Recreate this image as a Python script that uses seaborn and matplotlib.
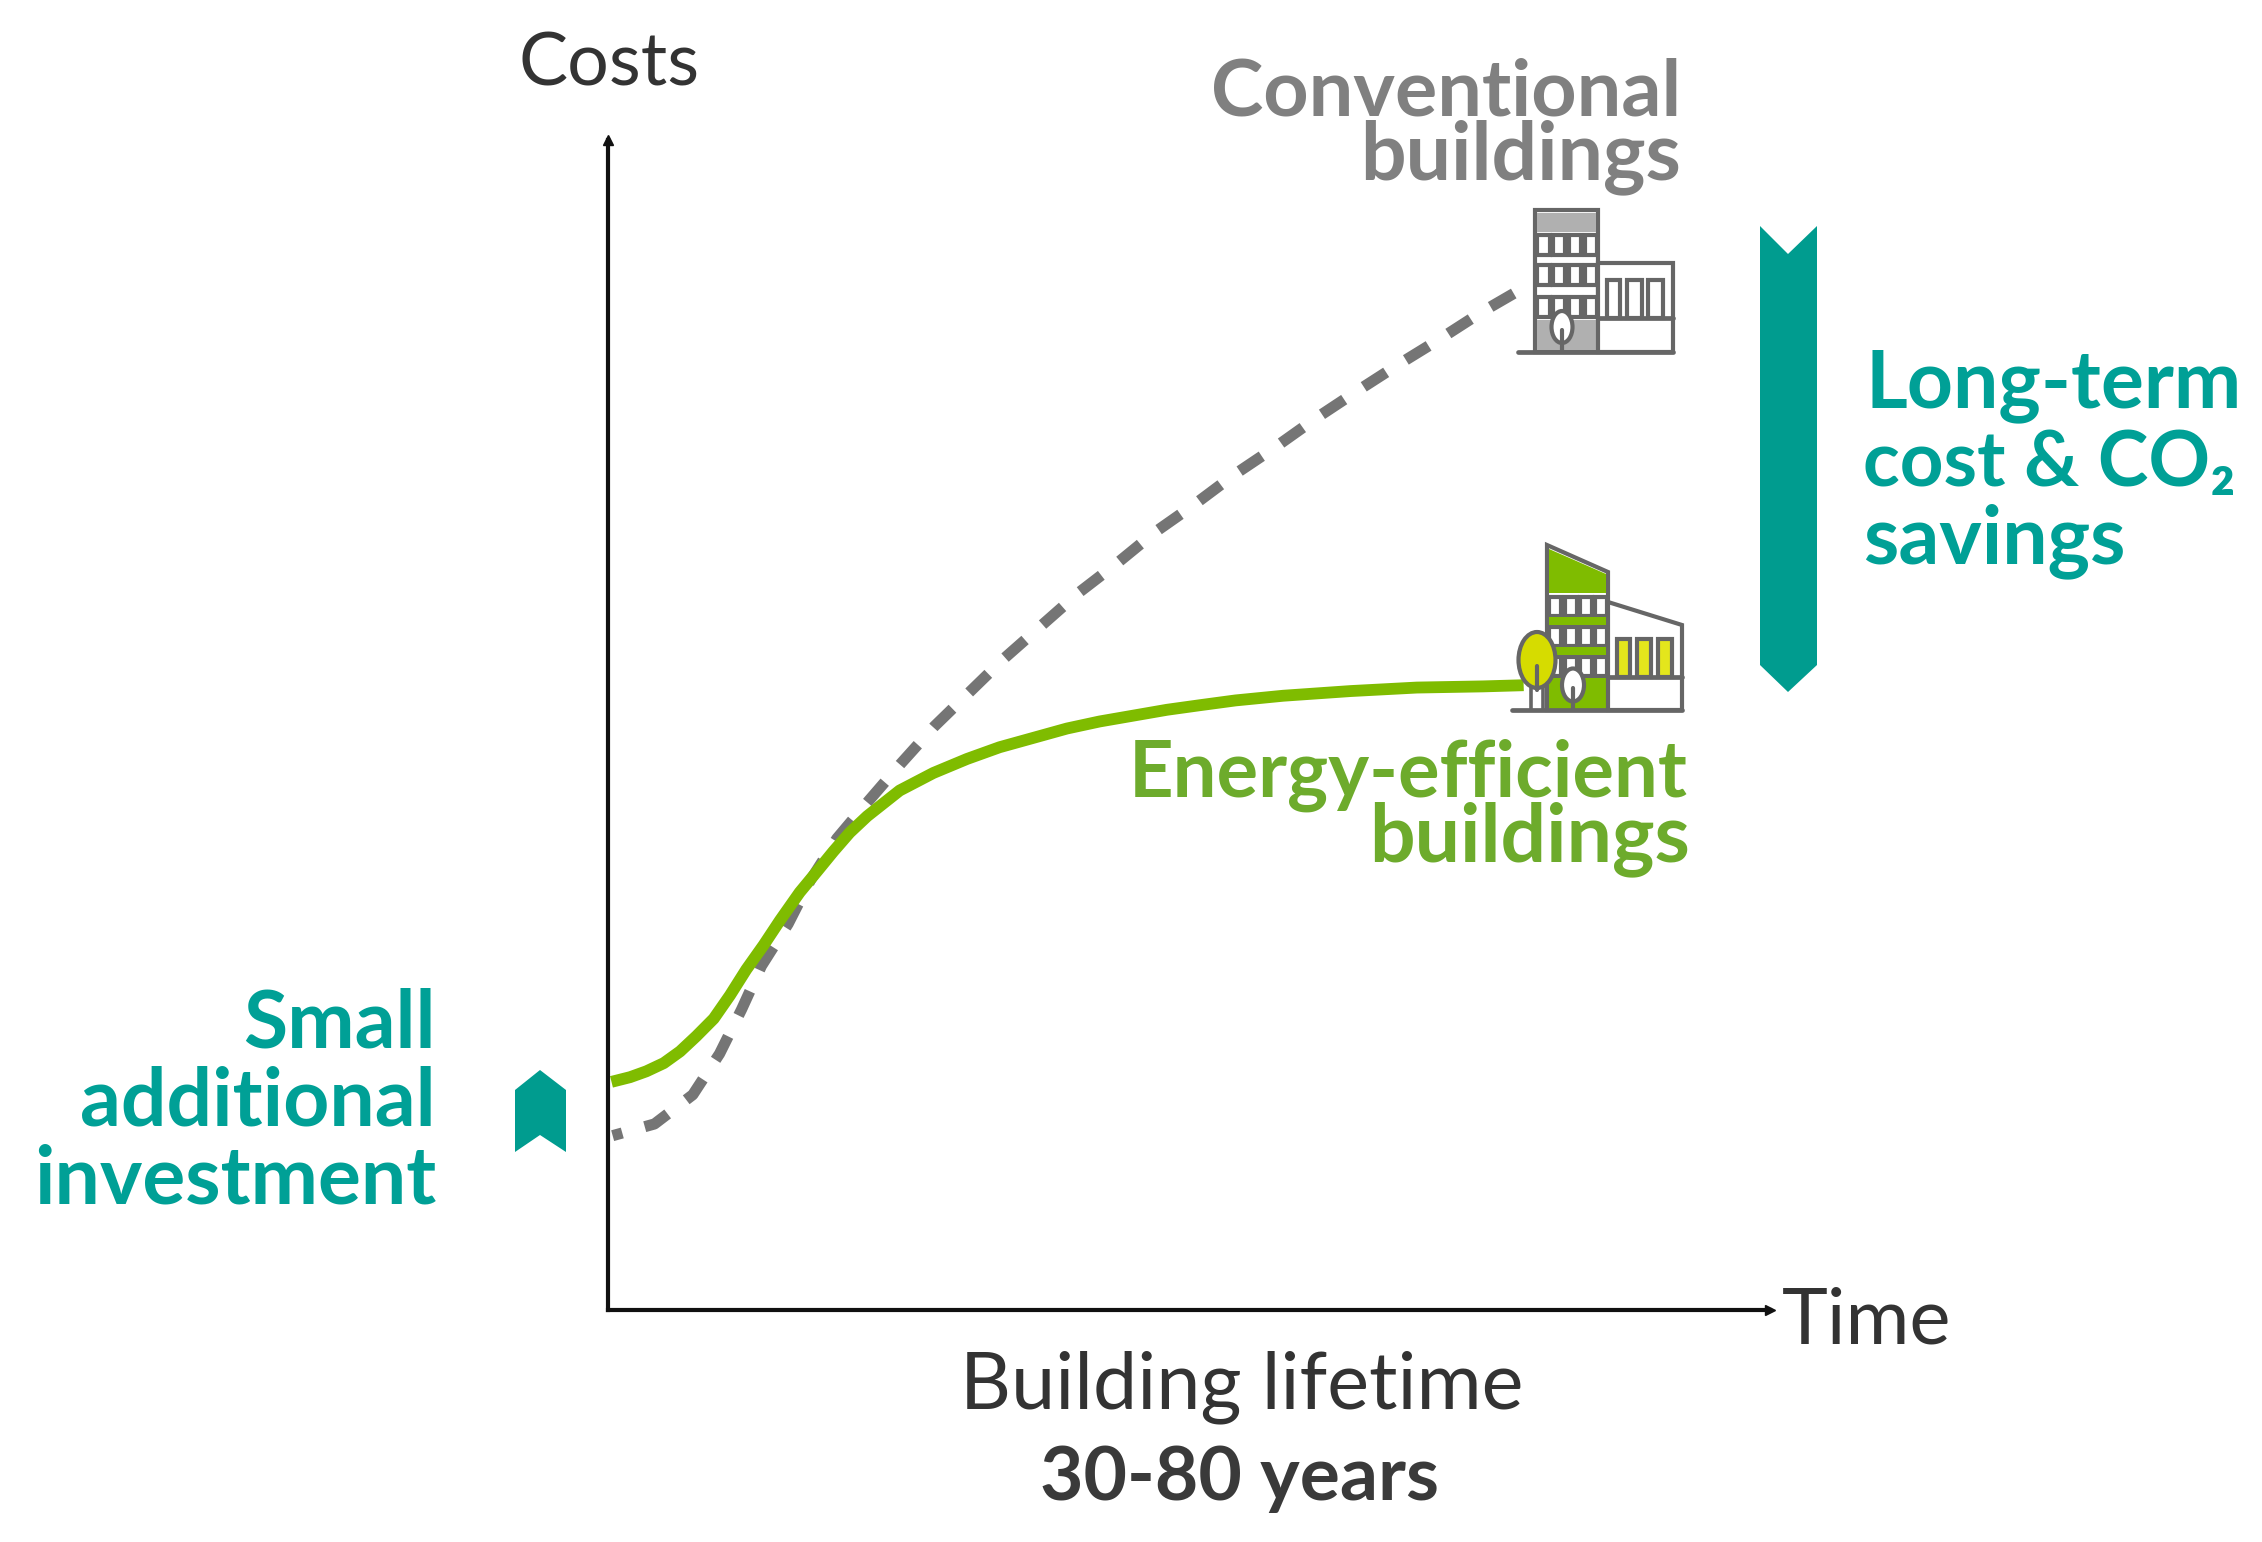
import matplotlib
matplotlib.use("Agg")
import matplotlib.pyplot as plt
from matplotlib.patches import Polygon, Rectangle, Ellipse
import pandas as pd
import seaborn as sns

W, H = 2262, 1542

# curves, time and cost in % of the axis length
time_green = [0.3, 1.9, 3.3, 4.8, 6.2, 7.6, 9.1, 10.5, 11.9, 13.4, 14.8, 16.5, 18.0, 19.4, 20.8, 22.3,
              25.1, 28.0, 30.9, 33.7, 36.6, 39.5, 42.3, 45.2, 48.1, 51.0, 54.0, 58.1, 63.9, 69.6, 75.3, 78.8]
cost_green = [19.5, 19.9, 20.4, 21.1, 22.1, 23.4, 24.9, 26.9, 29.1, 31.2, 33.3, 35.7, 37.5, 39.2, 40.8, 42.2,
              44.4, 45.9, 47.1, 48.1, 48.9, 49.7, 50.3, 50.8, 51.3, 51.7, 52.1, 52.5, 52.9, 53.2, 53.3, 53.4]
time_grey = [0.4, 4.0, 7.3, 9.6, 11.5, 13.2, 15.5, 17.4, 19.7, 22.5, 25.2, 28.1, 31.1, 34.1, 37.3, 40.5,
             43.9, 47.1, 50.4, 53.9, 57.5, 60.9, 64.4, 68.0, 71.6, 75.2, 78.5, 79.3]
cost_grey = [14.9, 15.9, 18.4, 21.9, 25.7, 29.4, 33.0, 36.7, 40.3, 43.6, 46.7, 49.9, 52.8, 55.7, 58.5, 61.3,
             63.9, 66.5, 68.8, 71.4, 73.8, 76.2, 78.5, 80.8, 83.0, 85.3, 87.2, 87.7]

TEAL = "#009c8f"
TEAL_TXT = "#00a096"
GREEN = "#7fbc00"
GREEN_TXT = "#6dab2c"
GREY = "#757575"
GREY_TXT = "#808080"
ICON = "#666666"
FONT = ["Lato", "DejaVu Sans"]

sns.set_theme(style="white")
plt.rcParams["font.family"] = FONT

fig = plt.figure(figsize=(W / 100, H / 100), dpi=100)
ax = fig.add_axes([608 / W, 1 - 1310 / H, 1162 / W, 1170 / H])

df_green = pd.DataFrame({"t": time_green, "c": cost_green})
df_grey = pd.DataFrame({"t": time_grey, "c": cost_grey})
sns.lineplot(data=df_grey, x="t", y="c", ax=ax, color=GREY, lw=8, sort=False,
             errorbar=None, linestyle=(1.5, (2.4, 2.1)))
sns.lineplot(data=df_green, x="t", y="c", ax=ax, color=GREEN, lw=8.5, sort=False, errorbar=None)
for line in ax.lines:
    line.set_dash_capstyle("butt")
    line.set_solid_joinstyle("round")
    line.set_solid_capstyle("butt")
ax.set_xlim(0, 100)
ax.set_ylim(0, 100)
ax.set_xticks([])
ax.set_yticks([])
ax.set_xlabel("")
ax.set_ylabel("")
ax.patch.set_alpha(0)
sns.despine(ax=ax)
for s in ["left", "bottom"]:
    ax.spines[s].set_linewidth(3)
    ax.spines[s].set_color("#111111")
    ax.spines[s].set_zorder(5)
ax.plot(1, 0, ">", color="#111111", ms=7, transform=ax.transAxes, clip_on=False)
ax.plot(0, 1, "^", color="#111111", ms=7, transform=ax.transAxes, clip_on=False)

# overlay in picture pixels for labels, chevrons and icons
ov = fig.add_axes([0, 0, 1, 1])
ov.set_xlim(0, W)
ov.set_ylim(H, 0)
ov.axis("off")
ov.patch.set_alpha(0)


def label(x, y, s, color="#333333", ha="left", size=54, weight="normal"):
    ov.text(x, y, s, color=color, ha=ha, va="baseline", fontsize=size, fontweight=weight, family=FONT)


label(519, 86, "Costs", size=53)
label(1782, 1343, "Time", size=56)
label(1242, 1408, "Building lifetime", ha="center", size=57)
label(1240, 1500, "30-80 years", ha="center", size=54, weight="bold", color="#3a3a3a")

label(1681, 115, "Conventional", GREY_TXT, "right", 57, "bold")
label(1681, 179, "buildings", GREY_TXT, "right", 58, "bold")
label(1688, 797, "Energy-efficient", GREEN_TXT, "right", 56, "bold")
label(1690, 861, "buildings", GREEN_TXT, "right", 58, "bold")
label(1865, 407, "Long-term", TEAL_TXT, "left", 58, "bold")
label(1863, 486, "cost & CO₂", TEAL_TXT, "left", 55, "bold")
label(1863, 563, "savings", TEAL_TXT, "left", 58, "bold")
label(436, 1047, "Small", TEAL_TXT, "right", 58, "bold")
label(436, 1126, "additional", TEAL_TXT, "right", 58, "bold")
label(436, 1204, "investment", TEAL_TXT, "right", 58, "bold")

# chevrons
ov.add_patch(Polygon([(1760, 226), (1788, 254), (1817, 226), (1817, 665), (1788, 692), (1760, 665)],
                     closed=True, fc=TEAL, ec="none"))
ov.add_patch(Polygon([(515, 1090), (540, 1070), (566, 1090), (566, 1152), (540, 1135), (515, 1152)],
                     closed=True, fc=TEAL, ec="none"))


def rect(x0, y0, x1, y1, fc="white", ec=ICON, lw=3, z=3):
    ov.add_patch(Rectangle((x0, y0), x1 - x0, y1 - y0, fc=fc, ec=ec, lw=lw, zorder=z))


def hline(x0, x1, y, lw=3.4, z=3):
    ov.plot([x0, x1], [y, y], color=ICON, lw=lw, zorder=z, solid_capstyle="round")


def tree(cx, cy, w, h, bottom, fc="white", z=6):
    ov.add_patch(Ellipse((cx, cy), w, h, fc=fc, ec=ICON, lw=3, zorder=z))
    ov.plot([cx, cx], [cy + h * 0.1, bottom], color=ICON, lw=3, zorder=z + 1)


# conventional building
rect(1535, 210, 1598, 352, fc="white")
rect(1537, 213, 1596, 232, fc="#b0b0b0", ec="none")
rect(1537, 320, 1597, 350, fc="#b0b0b0", ec="none")
for y0, y1 in [(235, 255), (265, 285), (297, 317)]:
    for x0, x1 in [(1537, 1550), (1553, 1565), (1569, 1581), (1585, 1597)]:
        rect(x0, y0, x1, y1)
rect(1598, 263, 1673, 352)
hline(1598, 1673, 318)
for x0, x1 in [(1607, 1620), (1627, 1642), (1648, 1663)]:
    rect(x0, 280, x1, 318)
hline(1518, 1673, 352)
tree(1562, 327, 21, 32, 352)

# energy-efficient building
ov.add_patch(Polygon([(1547, 545), (1608, 572), (1608, 710), (1547, 710)], closed=True,
                     fc="white", ec=ICON, lw=3, zorder=3))
ov.add_patch(Polygon([(1549, 549), (1606, 574), (1606, 593), (1549, 593)], closed=True,
                     fc=GREEN, ec="none", zorder=3))
for y0, y1 in [(597, 616), (627, 646), (657, 676)]:
    for x0, x1 in [(1549, 1561), (1565, 1577), (1580, 1592), (1595, 1607)]:
        rect(x0, y0, x1, y1)
rect(1549, 617, 1606, 625, fc=GREEN, ec="none", z=4)
rect(1549, 647, 1606, 655, fc=GREEN, ec="none", z=4)
rect(1549, 678, 1606, 709, fc=GREEN, ec="none")
ov.add_patch(Polygon([(1608, 602), (1682, 625), (1682, 710), (1608, 710)], closed=True,
                     fc="white", ec=ICON, lw=3, zorder=3))
hline(1608, 1682, 677)
for x0, x1 in [(1617, 1630), (1637, 1651), (1658, 1672)]:
    rect(x0, 639, x1, 677, fc="#e4e61c")
hline(1512, 1682, 710)
ov.plot([1531, 1531], [680, 710], color=ICON, lw=2.6, zorder=5)
ov.plot([1543, 1543], [680, 710], color=ICON, lw=2.6, zorder=5)
tree(1537, 660, 37, 56, 690, fc="#d6dc00")
tree(1573, 685, 22, 33, 710)

fig.savefig("out.png", dpi=100, facecolor="white")
